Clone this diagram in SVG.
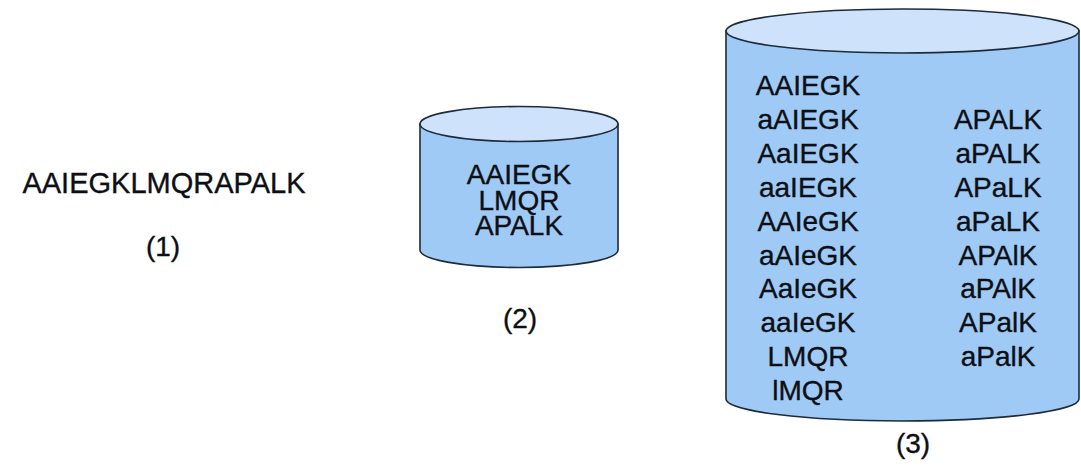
<svg xmlns="http://www.w3.org/2000/svg" width="1081" height="467" viewBox="0 0 1081 467">
<defs>
<style>
.t{font-family:"Liberation Sans",Arial,sans-serif;font-size:28px;fill:#0c0f14;stroke:#0c0f14;stroke-width:0.35;text-anchor:middle}
.body{fill:#a0caf6;stroke:#1e2b3a;stroke-width:1.6}
.top{fill:#cee3fb;stroke:#1e2b3a;stroke-width:1.6}
</style>
</defs>
<rect width="1081" height="467" fill="#ffffff"/>
<g id="node1">
<text class="t" x="164" y="193" style="font-size:29px">AAIEGKLMQRAPALK</text>
<text class="t" x="163" y="256">(1)</text>
</g>
<g id="node2">
<path class="body" d="M420,124 L420,250 A99,17.5 0 0 0 618,250 L618,124 Z"/>
<ellipse class="top" cx="519" cy="124" rx="99" ry="17.5"/>
<text class="t" x="519" y="184">AAIEGK</text>
<text class="t" x="519" y="209.5">LMQR</text>
<text class="t" x="519" y="235">APALK</text>
<text class="t" x="520" y="328">(2)</text>
</g>
<g id="node3">
<path class="body" d="M726,31 L726,399 A176.5,22 0 0 0 1079,399 L1079,31 Z"/>
<ellipse class="top" cx="902.5" cy="31" rx="176.5" ry="22"/>
<text class="t" x="808" y="95">AAIEGK</text>
<text class="t" x="808" y="129">aAIEGK</text>
<text class="t" x="808" y="163">AaIEGK</text>
<text class="t" x="808" y="197">aaIEGK</text>
<text class="t" x="808" y="231">AAIeGK</text>
<text class="t" x="808" y="265">aAIeGK</text>
<text class="t" x="808" y="298">AaIeGK</text>
<text class="t" x="808" y="332">aaIeGK</text>
<text class="t" x="808" y="366">LMQR</text>
<text class="t" x="808" y="400">lMQR</text>
<text class="t" x="998" y="129">APALK</text>
<text class="t" x="998" y="163">aPALK</text>
<text class="t" x="998" y="197">APaLK</text>
<text class="t" x="998" y="231">aPaLK</text>
<text class="t" x="998" y="265">APAlK</text>
<text class="t" x="998" y="298">aPAlK</text>
<text class="t" x="998" y="332">APalK</text>
<text class="t" x="998" y="366">aPalK</text>
<text class="t" x="913" y="453">(3)</text>
</g>
<g id="connectors"/>
</svg>
